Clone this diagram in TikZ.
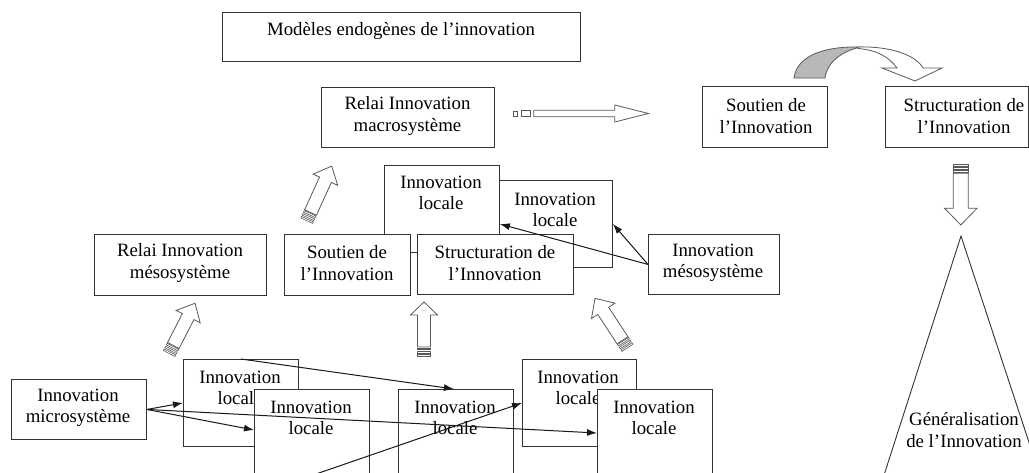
\documentclass[tikz,border=0pt]{standalone}
\usepackage{fontspec}
\setmainfont{Liberation Serif}
\usetikzlibrary{arrows.meta,calc}
\tikzset{
  box/.style={draw=black!80, line width=0.9pt, fill=white, inner sep=0pt, anchor=north west},
  txt/.style={align=center, inner sep=0pt, font=\fontsize{18.8}{21.5}\selectfont},
  con/.style={draw=black!90, line width=1pt, -{Latex[length=10pt,width=7pt]}},
  blk/.style={draw=black!65, line width=0.8pt, fill=white},
  stripe/.style={draw=black!65, line width=0.6pt, fill=white},
}
\newcommand{\blockarr}[6]{%
  \begin{scope}[shift={(#1)}, rotate=#2]
    \draw[blk] (0,-#4) -- ({#3-#6},-#4) -- ({#3-#6},-#5) -- (#3,0) -- ({#3-#6},#5) -- ({#3-#6},#4) -- (0,#4) -- cycle;
    \draw[stripe] (-2.6,-#4) rectangle (-0.9,#4) (-5.8,-#4) rectangle (-4.1,#4) (-9,-#4) rectangle (-7.3,#4);
  \end{scope}}
\begin{document}
\begin{tikzpicture}[x=1pt,y=-1pt]
\useasboundingbox (0,0) rectangle (1029,472);
\clip (0,0) rectangle (1029,472);

% top
\node[box, minimum width=358pt, minimum height=49pt] (title) at (222,12) {};
\node[txt] (titlet) at (401,31) {Modèles endogènes de l’innovation};
\node[box, minimum width=173pt, minimum height=60pt] (macro) at (321,87) {};
\node[txt] (macrot) at (407.5,116) {Relai Innovation\\macrosystème};
\node[box, minimum width=125pt, minimum height=61pt] (soutT) at (702,86) {};
\node[txt] (soutTt) at (766,116) {Soutien de\\l’Innovation};
\node[box, minimum width=143pt, minimum height=61pt] (strT) at (885,86) {};
\node[txt] (strTt) at (964,116) {Structuration de\\l’Innovation};

% middle
\node[box, minimum width=172pt, minimum height=61pt] (relmeso) at (94,234) {};
\node[txt] (relmesot) at (180,263) {Relai Innovation\\mésosystème};
\node[box, minimum width=113pt, minimum height=87pt] (B) at (499,180) {};
\node[txt] (Bt) at (555,210) {Innovation\\locale};
\node[box, minimum width=115pt, minimum height=87pt] (A) at (384,165) {};
\node[txt] (At) at (441,193) {Innovation\\locale};
\node[box, minimum width=126pt, minimum height=61pt] (soutM) at (284,234) {};
\node[txt] (soutMt) at (347,263) {Soutien de\\l’Innovation};
\node[box, minimum width=156pt, minimum height=60pt] (strM) at (417,234) {};
\node[txt] (strMt) at (495,263) {Structuration de\\l’Innovation};
\node[box, minimum width=131pt, minimum height=60pt] (meso) at (648,234) {};
\node[txt] (mesot) at (713,263) {Innovation\\mésosystème};

% bottom
\node[box, minimum width=135pt, minimum height=60pt] (micro) at (11,379) {};
\node[txt] (microt) at (78,408) {Innovation\\microsystème};
\node[box, minimum width=115pt, minimum height=87pt] (C) at (183,359) {};
\node[txt] (Ct) at (240,388) {Innovation\\locale};
\node[box, minimum width=115pt, minimum height=100pt] (D) at (254,389) {};
\node[txt] (Dt) at (311,418) {Innovation\\locale};
\node[box, minimum width=115pt, minimum height=100pt] (E) at (398,389) {};
\node[txt] (Et) at (455,418) {Innovation\\locale};
\node[box, minimum width=114pt, minimum height=87pt] (F) at (522,359) {};
\node[txt] (Ft) at (578,388) {Innovation\\locale};
\node[box, minimum width=115pt, minimum height=100pt] (G) at (597,389) {};
\node[txt] (Gt) at (654,418) {Innovation\\locale};

% connectors
\coordinate (bot) at (316,474);
\draw[con] (micro.east) -- (C.west);
\draw[con] (micro.east) -- ([yshift=-41pt]D.north west);
\draw[con] (micro.east) -- ([yshift=-44pt]G.north west);
\draw[con] (C.north) -- ([xshift=-2pt]E.north);
\draw[con] (bot) -- (F.west);
\draw[con] (meso.west) -- ([yshift=-59pt]A.north east);
\draw[con] (meso.west) -- (B.east);

% block arrows
\blockarr{310.5,212.5}{65.5}{51}{6.5}{13.5}{15}
\blockarr{173.3,345.5}{62.8}{47.5}{6.5}{13.5}{15}
\blockarr{424,347}{90}{45}{6.5}{13.5}{13}
\blockarr{622.5,340.3}{123.2}{50.2}{6.5}{14}{15}
\blockarr{960.8,173.3}{-90}{51.7}{7.5}{16.2}{16.7}

% horizontal arrow with squares
\draw[stripe] (513,111.5) rectangle (517,115.8);
\draw[stripe] (521.3,110.5) rectangle (530.4,116.5);
\draw[blk] (533.7,110.3) -- (614.7,110.3) -- (614.7,105) -- (648.4,113.5) -- (614.7,122) -- (614.7,116.7) -- (533.7,116.7) -- cycle;

% curved arrow
\draw[draw=black!65, line width=0.8pt, fill=black!28] (794,78) .. controls (797,54) and (828,46) .. (861,47) .. controls (842,51) and (827,62) .. (825,78) -- cycle;
\draw[blk] (858,47) .. controls (890,46) and (916,55) .. (923,68) -- (942,68) -- (915,81) -- (882,68) -- (897,68) .. controls (889,57) and (877,50) .. (858,48.5) -- cycle;

% generalisation triangle
\coordinate (apex) at (961,236);
\draw[draw=black!80, line width=0.9pt] (876,500) -- (apex) -- (1048,500);
\node[txt] (gent) at (964,430) {Généralisation\\de l’Innovation};
\end{tikzpicture}
\end{document}
